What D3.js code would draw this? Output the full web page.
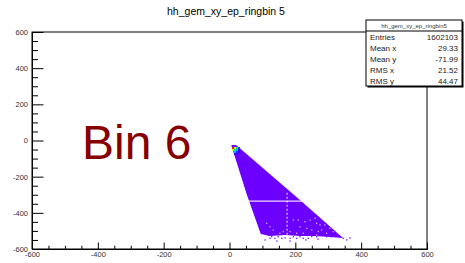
<!DOCTYPE html>
<html>
<head>
<meta charset="utf-8">
<script src="https://cdn.jsdelivr.net/npm/d3@7"></script>
<style>
  body { margin: 0; background: #fff; }
  svg { display: block; font-family: "Liberation Sans", Arial, sans-serif; }
</style>
</head>
<body>
<script>
// axis ticks and labels
var xMajor = [-600, -400, -200, 0, 200, 400, 600];
var xTickLabels = ["-600", "-400", "-200", "0", "200", "400", "600"];
var yMajor = [-600, -400, -200, 0, 200, 400, 600];
var yTickLabels = ["-600", "-400", "-200", "0", "200", "400", "600"];
var minorTicks = [-550, -500, -450, -350, -300, -250, -150, -100, -50, 50, 100, 150, 250, 300, 350, 450, 500, 550];

// outline of the dense (lowest colour) region, x / y in hist units
var bodyX = [6, 20, 214, 345, 305, 260, 214, 169, 123, 95, 53, 6];
var bodyY = [-25, -25, -329, -539, -534, -528, -528, -523, -528, -517, -301, -30];

// hot spot bins near the apex (level = palette index)
var hotX = [11, 17, 23, 29, 11, 17, 23, 29, 17, 23, 29, 17, 23];
var hotY = [-41, -41, -41, -41, -52, -52, -52, -52, -63, -63, -63, -74, -74];
var hotLevel = [6, 5, 4, 2, 5, 4, 3, 1, 3, 2, 1, 1, 1];
var palette = ["#6b00ff", "#3a00ff", "#0044ff", "#00c8ff", "#00ff5a", "#c8ff00", "#ff1a00"];

// isolated bins below the dense region
var strayX = [118, 123, 128, 138, 148, 159, 169, 184, 194, 204, 214, 224, 239, 250, 265, 295, 310, 346, 356, 108, 144, 184, 232, 269, 366];
var strayY = [-523, -541, -532, -541, -532, -541, -538, -541, -532, -541, -532, -541, -541, -532, -532, -532, -532, -541, -550, -550, -556, -556, -550, -545, -539];

// empty bins inside the lower part
var holeX = [194, 209, 229, 245, 260, 265, 275, 290, 305, 300, 214, 235, 250, 270, 280, 315, 326, 113, 123, 133, 153, 163, 184, 204, 224, 265, 295, 331];
var holeY = [-440, -440, -449, -440, -430, -458, -467, -467, -486, -449, -477, -486, -495, -504, -495, -504, -504, -458, -477, -495, -513, -504, -504, -513, -513, -523, -513, -513];

// empty row / column
var gapRowY = -335;
var gapRowX = [50, 230];
var gapColX = 175;
var gapColY = [-289, -540];

var statNames = ["Entries", "Mean x", "Mean y", "RMS x", "RMS y"];
var statValues = ["1602103", "29.33", "-71.99", "21.52", "44.47"];

var W = 465, H = 263;
var frame = { left: 32, right: 427, top: 32, bottom: 249 };

var svg = d3.select("body").append("svg").attr("width", W).attr("height", H);

var x = d3.scaleLinear().domain([-600, 600]).range([frame.left, frame.right]);
var y = d3.scaleLinear().domain([-600, 600]).range([frame.bottom, frame.top]);

// title
svg.append("text")
  .attr("x", 226).attr("y", 15)
  .attr("text-anchor", "middle")
  .style("font-size", "10.5px")
  .text("hh_gem_xy_ep_ringbin 5");

// histogram body
var body = bodyX.map(function (d, i) { return [x(d), y(bodyY[i])]; });
svg.append("path")
  .attr("d", "M" + body.join("L") + "Z")
  .attr("fill", palette[0]);

var cw = x(6) - x(0), ch = y(0) - y(11);
svg.selectAll(".stray").data(strayX).enter().append("rect")
  .attr("x", function (d) { return x(d) - cw * 0.35; })
  .attr("y", function (d, i) { return y(strayY[i]) - ch * 0.35; })
  .attr("width", cw * 0.7).attr("height", ch * 0.7)
  .attr("fill", palette[0]).attr("opacity", 0.85);

svg.selectAll(".hole").data(holeX).enter().append("rect")
  .attr("x", function (d) { return x(d) - cw * 0.3; })
  .attr("y", function (d, i) { return y(holeY[i]) - ch * 0.3; })
  .attr("width", cw * 0.6).attr("height", ch * 0.6)
  .attr("fill", "#fff").attr("opacity", 0.8);

svg.selectAll(".hot").data(hotX).enter().append("rect")
  .attr("x", function (d) { return x(d) - cw / 2; })
  .attr("y", function (d, i) { return y(hotY[i]) - ch / 2; })
  .attr("width", cw).attr("height", ch)
  .attr("fill", function (d, i) { return palette[hotLevel[i]]; });

svg.append("line")
  .attr("x1", x(gapRowX[0])).attr("x2", x(gapRowX[1]))
  .attr("y1", y(gapRowY)).attr("y2", y(gapRowY))
  .attr("stroke", "#fff").attr("stroke-width", 1.1).attr("opacity", 0.85);
svg.append("line")
  .attr("x1", x(gapColX)).attr("x2", x(gapColX))
  .attr("y1", y(gapColY[0])).attr("y2", y(gapColY[1]))
  .attr("stroke", "#fff").attr("stroke-width", 1.1)
  .attr("stroke-dasharray", "2,2").attr("opacity", 0.85);

// frame
svg.append("rect")
  .attr("x", frame.left).attr("y", frame.top)
  .attr("width", frame.right - frame.left).attr("height", frame.bottom - frame.top)
  .attr("fill", "none").attr("stroke", "#000");

// axes (ROOT style: ticks pointing inwards)
svg.append("g").attr("transform", "translate(0," + frame.bottom + ")")
  .call(d3.axisBottom(x).tickValues(xMajor).tickSize(-6.5).tickSizeOuter(0).tickPadding(3)
    .tickFormat(function (d, i) { return xTickLabels[i]; }));
svg.append("g").attr("transform", "translate(0," + frame.bottom + ")")
  .call(d3.axisBottom(x).tickValues(minorTicks).tickSize(-3.3).tickSizeOuter(0).tickFormat(""));
svg.append("g").attr("transform", "translate(" + frame.left + ",0)")
  .call(d3.axisLeft(y).tickValues(yMajor).tickSize(-11.5).tickSizeOuter(0).tickPadding(4)
    .tickFormat(function (d, i) { return yTickLabels[i]; }));
svg.append("g").attr("transform", "translate(" + frame.left + ",0)")
  .call(d3.axisLeft(y).tickValues(minorTicks).tickSize(-6).tickSizeOuter(0).tickFormat(""));

svg.selectAll(".domain").attr("stroke", "#000");
svg.selectAll(".tick line").attr("stroke", "#000");
svg.selectAll(".tick text").attr("fill", "#333").style("font-size", "7.5px").style("font-family", "Liberation Sans, Arial, sans-serif");

// stats box
var sb = { x: 366, y: 20, w: 96, titleH: 11, rowH: 11 };
var sbH = sb.titleH + statNames.length * sb.rowH;
svg.append("rect").attr("x", sb.x + 1.5).attr("y", sb.y + 1.5).attr("width", sb.w).attr("height", sbH).attr("fill", "#000");
svg.append("rect").attr("x", sb.x).attr("y", sb.y).attr("width", sb.w).attr("height", sbH)
  .attr("fill", "#fff").attr("stroke", "#000");
svg.append("line").attr("x1", sb.x).attr("x2", sb.x + sb.w)
  .attr("y1", sb.y + sb.titleH).attr("y2", sb.y + sb.titleH).attr("stroke", "#000");
svg.append("text").attr("x", sb.x + sb.w / 2).attr("y", sb.y + 8)
  .attr("text-anchor", "middle").style("font-size", "6px").attr("fill", "#333")
  .text("hh_gem_xy_ep_ringbin5");
svg.selectAll(".sname").data(statNames).enter().append("text")
  .attr("x", sb.x + 4)
  .attr("y", function (d, i) { return sb.y + sb.titleH + sb.rowH * i + 8.5; })
  .style("font-size", "8px").attr("fill", "#222")
  .text(function (d) { return d; });
svg.selectAll(".sval").data(statValues).enter().append("text")
  .attr("x", sb.x + sb.w - 4)
  .attr("y", function (d, i) { return sb.y + sb.titleH + sb.rowH * i + 8.5; })
  .attr("text-anchor", "end")
  .style("font-size", "8px").attr("fill", "#222")
  .text(function (d) { return d; });

// annotation
svg.append("text")
  .attr("x", 82).attr("y", 159)
  .style("font-size", "48px").attr("fill", "#870000")
  .text("Bin 6");
</script>
</body>
</html>
